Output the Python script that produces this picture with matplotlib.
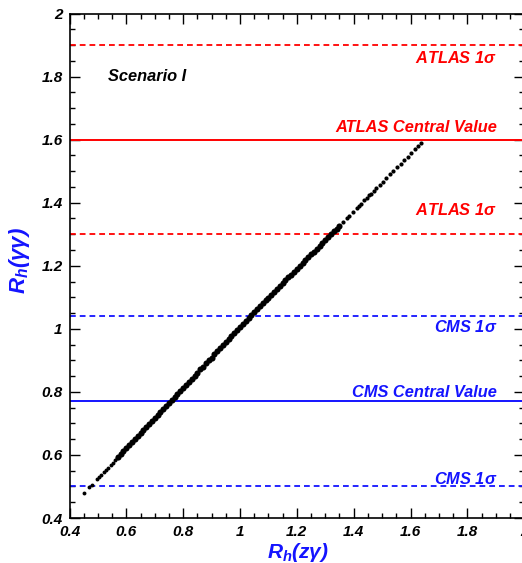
import matplotlib
matplotlib.use("Agg")
import matplotlib.pyplot as plt
from matplotlib.ticker import MultipleLocator, FuncFormatter

# scan points, R_h(z gamma) vs R_h(gamma gamma); sparse low tail, dense band, sparse high tail
rz_low = [0.452, 0.470, 0.478, 0.497, 0.503, 0.512, 0.520, 0.528, 0.535, 0.545,
          0.552, 0.560, 0.566]
rgg_low = [0.480, 0.497, 0.505, 0.523, 0.529, 0.537, 0.545, 0.553, 0.559, 0.569,
           0.575, 0.583, 0.589]

rz_mid = [0.57, 0.58, 0.59, 0.60, 0.61, 0.62, 0.63, 0.64, 0.65, 0.66, 0.67, 0.68,
          0.69, 0.70, 0.71, 0.72, 0.73, 0.74, 0.75, 0.76, 0.77, 0.78, 0.79, 0.80,
          0.81, 0.82, 0.83, 0.84, 0.85, 0.86, 0.87, 0.88, 0.89, 0.90, 0.91, 0.92,
          0.93, 0.94, 0.95, 0.96, 0.97, 0.98, 0.99, 1.00, 1.01, 1.02, 1.03, 1.04,
          1.05, 1.06, 1.07, 1.08, 1.09, 1.10, 1.11, 1.12, 1.13, 1.14, 1.15, 1.16,
          1.17, 1.18, 1.19, 1.20, 1.21, 1.22, 1.23, 1.24, 1.25, 1.26, 1.27, 1.28,
          1.29, 1.30, 1.31, 1.32, 1.33, 1.34, 1.35]
rgg_mid = [0.593, 0.602, 0.612, 0.621, 0.631, 0.640, 0.650, 0.659, 0.669, 0.678, 0.688, 0.698,
           0.707, 0.717, 0.726, 0.736, 0.745, 0.755, 0.764, 0.774, 0.784, 0.793, 0.803, 0.813,
           0.822, 0.832, 0.842, 0.851, 0.861, 0.871, 0.880, 0.890, 0.900, 0.909, 0.919, 0.929,
           0.938, 0.948, 0.958, 0.967, 0.977, 0.987, 0.997, 1.006, 1.016, 1.026, 1.035, 1.045,
           1.054, 1.063, 1.072, 1.081, 1.090, 1.099, 1.108, 1.118, 1.127, 1.136, 1.145, 1.154,
           1.163, 1.172, 1.181, 1.190, 1.200, 1.209, 1.218, 1.227, 1.236, 1.245, 1.254, 1.263,
           1.273, 1.282, 1.291, 1.300, 1.309, 1.318, 1.327]

rz_high = [1.362, 1.375, 1.385, 1.398, 1.410, 1.418, 1.426, 1.438, 1.447, 1.455,
           1.462, 1.470, 1.480, 1.492, 1.503, 1.515, 1.528, 1.540, 1.552, 1.565,
           1.578, 1.590, 1.603, 1.615, 1.627, 1.637]
rgg_high = [1.338, 1.350, 1.359, 1.371, 1.382, 1.389, 1.397, 1.408, 1.416, 1.423,
            1.429, 1.437, 1.446, 1.457, 1.467, 1.478, 1.490, 1.501, 1.512, 1.523,
            1.535, 1.546, 1.558, 1.569, 1.580, 1.589]

# experimental reference values: (value, style, label, label y)
atlas = [(1.9, "--", "ATLAS 1$\\sigma$", 1.86),
         (1.6, "-", "ATLAS Central Value", 1.637),
         (1.3, "--", "ATLAS 1$\\sigma$", 1.377)]
cms = [(1.04, "--", "CMS 1$\\sigma$", 1.006),
       (0.77, "-", "CMS Central Value", 0.797),
       (0.5, "--", "CMS 1$\\sigma$", 0.524)]

RED, BLUE = "#ff0000", "#1414ff"
plt.rcParams.update({"font.family": "Liberation Sans", "mathtext.fontset": "custom",
                     "mathtext.it": "Liberation Sans:bold:italic",
                     "mathtext.rm": "Liberation Sans:bold:italic",
                     "mathtext.sf": "Liberation Sans:bold:italic"})
bi = dict(fontweight="bold", fontstyle="italic")

W, H = 522, 563
fig = plt.figure(figsize=(W / 100, H / 100), dpi=100)
ax = fig.add_axes([69.5 / W, (H - 518) / H, 454.7 / W, 504.5 / H])
ax.set_xlim(0.4, 2.0)
ax.set_ylim(0.4, 2.0)

for group, color in ((atlas, RED), (cms, BLUE)):
    for val, ls, lab, ly in group:
        if ls == "--":
            ax.axhline(val, color=color, lw=1.3, ls=(0, (3.2, 2.2)))
        else:
            ax.axhline(val, color=color, lw=1.4)
        ax.text(1.905, ly, lab, color=color, ha="right", va="center", fontsize=11.8, **bi)

ax.plot(rz_low, rgg_low, "o", color="black", ms=2.8, mew=0)
ax.plot(rz_mid, rgg_mid, "o", color="black", ms=4.4, mew=0)
ax.plot(rz_high, rgg_high, "o", color="black", ms=3.0, mew=0)
ax.text(0.535, 1.8, "Scenario I", color="black", ha="left", va="center", fontsize=11.8, **bi)

fmt = FuncFormatter(lambda v, _: f"{v:g}")
for axis in (ax.xaxis, ax.yaxis):
    axis.set_major_locator(MultipleLocator(0.2))
    axis.set_minor_locator(MultipleLocator(0.05))
    axis.set_major_formatter(fmt)
ax.tick_params(which="both", direction="in", top=True, right=True, width=1.0)
ax.tick_params(which="major", length=7.5, labelsize=11, pad=5)
ax.tick_params(which="minor", length=3.6)
for lbl in ax.get_xticklabels() + ax.get_yticklabels():
    lbl.set_fontweight("bold")
    lbl.set_fontstyle("italic")
for s in ax.spines.values():
    s.set_linewidth(1.2)

fig.text(298 / W, 1 - 552 / H, "$R_h(z\\gamma)$", color=BLUE, ha="center", va="center", fontsize=15)
fig.text(20 / W, 1 - 260 / H, "$R_h(\\gamma\\gamma)$", color=BLUE, ha="center", va="center",
         fontsize=16, rotation=90)

fig.savefig("out.png", dpi=100)
